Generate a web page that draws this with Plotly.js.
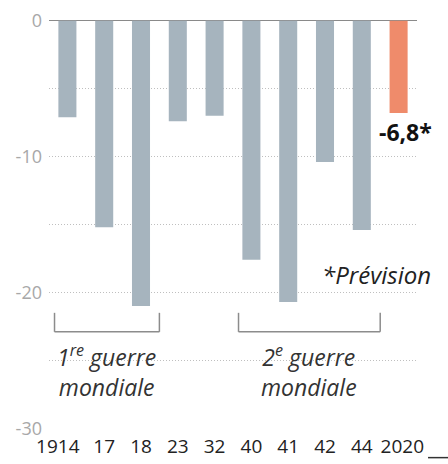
<!DOCTYPE html>
<html>
<head>
<meta charset="utf-8">
<script src="https://cdn.plot.ly/plotly-3.0.1.min.js"></script>
<style>
  html, body { margin: 0; padding: 0; background: #fff; }
  #chart { width: 448px; height: 464px; }
</style>
</head>
<body>
<div id="chart"></div>
<script>
// Annual change in GDP (%), worst recession years and the 2020 forecast
const years = ['1914', '17', '18', '23', '32', '40', '41', '42', '44', '2020'];
const gdpChange = [-7.1, -15.2, -21.0, -7.4, -7.0, -17.6, -20.7, -10.4, -15.4, -6.8];
const isForecast = [false, false, false, false, false, false, false, false, false, true];

// War periods, as spans of bar indices, with their captions
const warLabels = ['1<sup>re</sup> guerre<br>mondiale', '2<sup>e</sup> guerre<br>mondiale'];
const warStart = [0, 5];
const warEnd = [2, 8];

const BAR_GREY = '#a6b4be';
const BAR_ORANGE = '#ef8b6b';
const GRID = '#bfbfbf';
const FONT = 'Open Sans, Noto Sans, sans-serif';
const DOTS = '1px,2px';

// one slot per year; the bars sit on the slot index
const slots = years.map((_, i) => i);

const trace = {
  type: 'bar',
  x: slots,
  y: gdpChange,
  width: 0.49,
  marker: { color: isForecast.map(f => f ? BAR_ORANGE : BAR_GREY) },
  hovertext: years,
  hoverinfo: 'text+y'
};

// bracket under each war period
const bracketTop = -21.5, bracketBottom = -22.9;
const shapes = [];
warStart.forEach((s, i) => {
  const x0 = s - 0.35, x1 = warEnd[i] + 0.5;
  const line = { color: '#8c8c8c', width: 1.5 };
  shapes.push({ type: 'line', xref: 'x', yref: 'y', x0: x0, x1: x0, y0: bracketTop, y1: bracketBottom, line });
  shapes.push({ type: 'line', xref: 'x', yref: 'y', x0: x0, x1: x1, y0: bracketBottom, y1: bracketBottom, line });
  shapes.push({ type: 'line', xref: 'x', yref: 'y', x0: x1, x1: x1, y0: bracketTop, y1: bracketBottom, line });
});
// small rule in the bottom-right corner
shapes.push({ type: 'line', xref: 'paper', yref: 'paper', x0: 1.03, x1: 1.1, y0: -0.07, y1: -0.07,
  line: { color: '#333', width: 1.5 } });

const last = gdpChange.length - 1;
const annotations = [
  {
    xref: 'x', yref: 'y', x: slots[last], y: gdpChange[last],
    text: '<b>' + String(gdpChange[last]).replace('.', ',') + '*</b>',
    showarrow: false, xanchor: 'center', yanchor: 'top', xshift: 7, yshift: -1,
    font: { family: FONT, size: 23, color: '#111' }
  },
  {
    xref: 'paper', yref: 'y', x: 1, y: -18.7, xshift: 16,
    text: '<i>*Prévision</i>', showarrow: false, xanchor: 'right', yanchor: 'middle',
    font: { family: FONT, size: 24, color: '#222' }
  }
];
warStart.forEach((s, i) => {
  annotations.push({
    xref: 'x', yref: 'y', x: (s - 0.35 + warEnd[i] + 0.5) / 2, y: -25.75,
    text: '<i>' + warLabels[i] + '</i>', showarrow: false,
    xanchor: 'center', yanchor: 'middle', align: 'center',
    font: { family: FONT, size: 23, color: '#333' }
  });
});

// tick labels under each slot; the first one is nudged left of its bar
const tickPos = slots.map((v, i) => i === 0 ? v - 0.26 : (i === last ? v + 0.1 : v));

const layout = {
  width: 448, height: 464,
  margin: { l: 49, r: 31, t: 20, b: 35 },
  paper_bgcolor: '#fff', plot_bgcolor: '#fff',
  showlegend: false,
  font: { family: FONT },
  xaxis: {
    range: [-0.5, 9.5],
    tickvals: tickPos,
    ticktext: years,
    tickangle: 0,
    automargin: false,
    showgrid: false, showline: false, zeroline: false, ticks: '',
    ticklabelstandoff: 4,
    tickfont: { family: FONT, size: 19, color: '#222' },
    fixedrange: true
  },
  yaxis: {
    range: [-30.05, 0.05],
    tickvals: [0, -10, -20, -30],
    ticktext: ['0', '-10', '-20', '-30'],
    ticks: '',
    ticklabelstandoff: 6,
    tickfont: { family: FONT, size: 18, color: '#a8a8a8' },
    showgrid: true, gridcolor: GRID, griddash: DOTS, gridwidth: 1,
    minor: { tick0: 0, dtick: 5, showgrid: true, gridcolor: GRID, griddash: DOTS, gridwidth: 1 },
    zeroline: true, zerolinecolor: '#8a8a8a', zerolinewidth: 1.5,
    showline: false,
    automargin: false,
    fixedrange: true
  },
  shapes: shapes,
  annotations: annotations
};

Plotly.newPlot('chart', [trace], layout, { displayModeBar: false, staticPlot: true });
</script>
</body>
</html>
